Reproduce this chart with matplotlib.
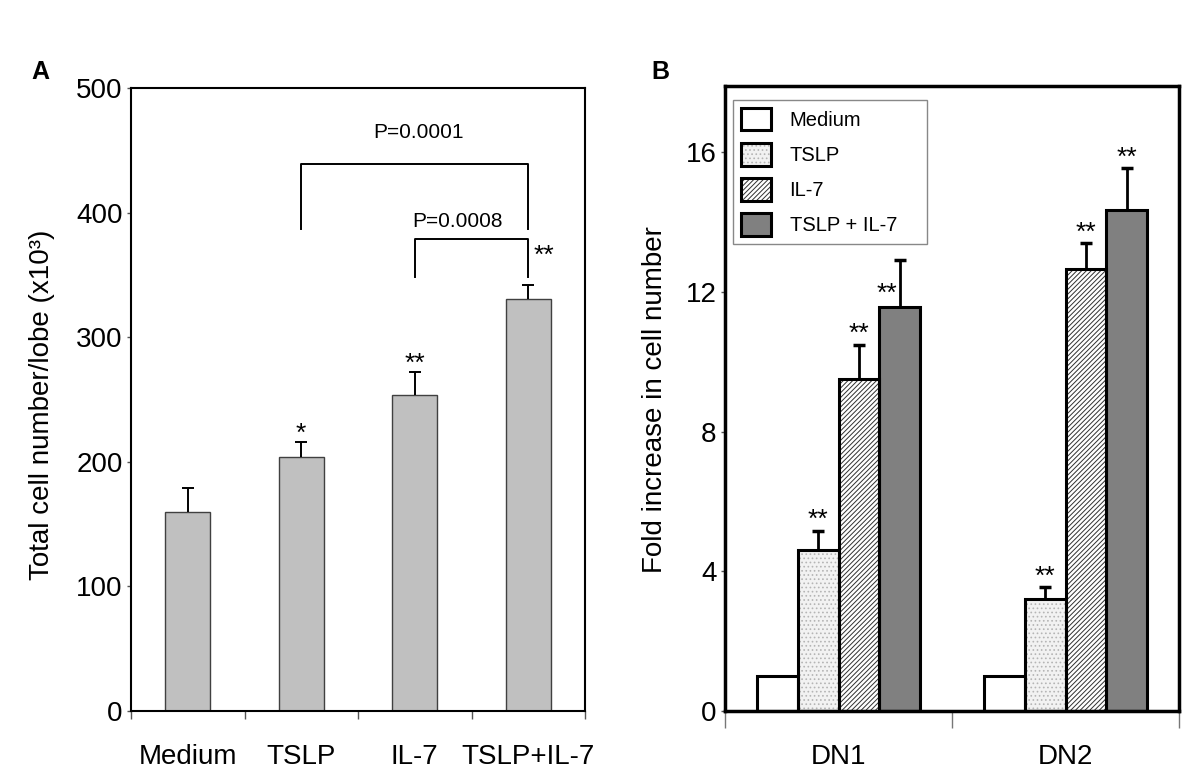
import numpy as np
import matplotlib
matplotlib.use('Agg')
import matplotlib.pyplot as plt
from matplotlib.patches import Patch
from matplotlib.legend_handler import HandlerTuple

plt.rcParams['font.family'] = ['Liberation Sans', 'DejaVu Sans']
plt.rcParams['hatch.linewidth'] = 0.7

# Panel A data
cond_a = ['Medium', 'TSLP', 'IL-7', 'TSLP+IL-7']
cells_a = [160, 204, 254, 331]
err_a = [19, 12, 18, 11]
stars_a = ['', '*', '**', '**']

# Panel B data
groups_b = ['DN1', 'DN2']
series_b = ['Medium', 'TSLP', 'IL-7', 'TSLP + IL-7']
fold_b = [[1.0, 1.0],
          [4.6, 3.2],
          [9.5, 12.65],
          [11.56, 14.35]]
err_b = [[0, 0],
         [0.56, 0.34],
         [0.99, 0.74],
         [1.36, 1.2]]
stars_b = [['', ''], ['**', '**'], ['**', '**'], ['**', '**']]


def up_errorbar(ax, xs, ys, errs, lw, cap, capw):
    # only the upper half of the error bar, no cap at the bar top
    eb = ax.errorbar(xs, ys, yerr=[np.zeros(len(errs)), errs], fmt='none', ecolor='black',
                     elinewidth=lw, capsize=cap, capthick=capw, zorder=4)
    eb[1][0].set_visible(False)
    return eb


fig = plt.figure(figsize=(12, 7.79), dpi=100)

# ---------- panel A ----------
axA = fig.add_axes([131/1200, 1-711/779, 454/1200, 623/779])
x = np.arange(len(cond_a))
axA.bar(x, cells_a, width=0.4, color='#c0c0c0', edgecolor='#404040', linewidth=1, zorder=2)
up_errorbar(axA, x, cells_a, err_a, 1.4, 4, 1.4)
for i, s in enumerate(stars_a):
    if s and i < 3:
        axA.text(x[i], cells_a[i] + err_a[i] + 1, s, ha='center', va='baseline', fontsize=19)
axA.text(3.14, 360, stars_a[3], ha='center', va='baseline', fontsize=19)

# significance brackets
axA.plot([1, 1, 3, 3], [387, 439, 439, 387], color='black', lw=1.4)
axA.text(2.03, 464, 'P=0.0001', ha='center', va='center', fontsize=15)
axA.plot([2, 2, 3, 3], [348, 379, 379, 348], color='black', lw=1.4)
axA.text(2.38, 393, 'P=0.0008', ha='center', va='center', fontsize=15)

axA.set_xlim(-0.5, 3.5)
axA.set_ylim(0, 500)
axA.set_yticks([0, 100, 200, 300, 400, 500])
axA.set_xticks(x)
axA.set_xticklabels(cond_a)
axA.set_xticks(np.arange(-0.5, 4, 1), minor=True)
axA.tick_params(axis='x', which='major', length=0, pad=24, labelsize=20)
axA.tick_params(axis='x', which='minor', length=6, width=1, color='#555555', direction='out')
axA.tick_params(axis='y', length=3, width=1, color='#555555', pad=3, labelsize=20)
for sp in axA.spines.values():
    sp.set_linewidth(1.5)
fig.text(42/1200, 1-405/779, 'Total cell number/lobe (x10³)', rotation=90,
         ha='center', va='center', fontsize=20)
fig.text(40/1200, 1-72/779, 'A', fontsize=18, fontweight='bold', ha='center', va='center')

# ---------- panel B ----------
axB = fig.add_axes([725/1200, 1-711/779, 454/1200, 625/779])
xb = np.arange(len(groups_b))
w = 0.18
faces = ['white', '#f2f2f2', 'white', '#808080']
hatches = [None, '....', '///////', None]
hcols = ['white', '#b5b5b5', '#303030', '#808080']
handles = []
for k in range(len(series_b)):
    pos = xb + (k - 1.5) * w
    axB.bar(pos, fold_b[k], width=w, color=faces[k], hatch=hatches[k],
            edgecolor=hcols[k], linewidth=0, zorder=2)
    axB.bar(pos, fold_b[k], width=w, fill=False, edgecolor='black', linewidth=2.2, zorder=3)
    has = np.array(err_b[k]) > 0
    if has.any():
        up_errorbar(axB, pos[has], np.array(fold_b[k])[has], np.array(err_b[k])[has], 2, 4, 2.5)
    for j in range(len(groups_b)):
        s = stars_b[k][j]
        if not s:
            continue
        if k == 3 and j == 0:
            axB.text(pos[j] - 0.055, fold_b[k][j] + 0.2, s, ha='center', va='baseline', fontsize=19)
        else:
            axB.text(pos[j], fold_b[k][j] + err_b[k][j] + 0.1, s, ha='center', va='baseline', fontsize=19)
    handles.append((Patch(facecolor=faces[k], hatch=hatches[k], edgecolor=hcols[k], linewidth=0),
                    Patch(fill=False, edgecolor='black', linewidth=2.2)))

leg = axB.legend(handles, series_b, handler_map={tuple: HandlerTuple(ndivide=1, pad=0)},
                 loc='upper left', bbox_to_anchor=(0.018, 0.978, 0.427, 0), mode='expand',
                 borderaxespad=0, fontsize=14.5, handlelength=1.5, handleheight=1.35,
                 labelspacing=0.62, handletextpad=0.9, borderpad=0.4, fancybox=False,
                 framealpha=1)
leg.get_frame().set_edgecolor('#888888')
leg.get_frame().set_linewidth(1)

axB.set_xlim(-0.5, 1.5)
axB.set_ylim(0, 17.9)
axB.set_yticks([0, 4, 8, 12, 16])
axB.set_xticks(xb)
axB.set_xticklabels(groups_b)
axB.set_xticks([-0.5, 0.5, 1.5], minor=True)
axB.tick_params(axis='x', which='major', length=0, pad=24, labelsize=20)
axB.tick_params(axis='x', which='minor', length=12, width=1, color='#777777', direction='out')
axB.tick_params(axis='y', length=3, width=1, color='#555555', pad=3, labelsize=20)
for sp in axB.spines.values():
    sp.set_linewidth(2.5)
fig.text(655/1200, 1-400/779, 'Fold increase in cell number', rotation=90,
         ha='center', va='center', fontsize=20)
fig.text(660/1200, 1-72/779, 'B', fontsize=18, fontweight='bold', ha='center', va='center')

fig.savefig('out.png', dpi=100)
